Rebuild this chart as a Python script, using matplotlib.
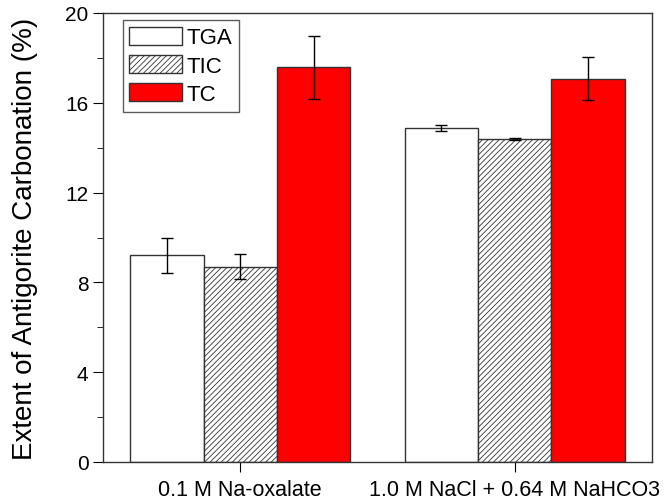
import numpy as np
import matplotlib.pyplot as plt
from matplotlib.ticker import MultipleLocator

plt.rcParams['font.family'] = ['Liberation Sans', 'DejaVu Sans']
plt.rcParams['hatch.linewidth'] = 0.6

groups = ['0.1 M Na-oxalate', '1.0 M NaCl + 0.64 M NaHCO3']
series = ['TGA', 'TIC', 'TC']
values = {
    'TGA': [9.22, 14.88],
    'TIC': [8.70, 14.40],
    'TC': [17.58, 17.08],
}
errors = {
    'TGA': [0.78, 0.15],
    'TIC': [0.55, 0.05],
    'TC': [1.40, 0.95],
}
styles = {
    'TGA': dict(color='white', hatch=None),
    'TIC': dict(color='white', hatch='//////'),
    'TC': dict(color='#ff0000', hatch=None),
}

fig = plt.figure(figsize=(6.65, 5.02), dpi=100)
ax = fig.add_axes([103 / 665, 39 / 502, 549 / 665, 449 / 502])

x = np.arange(len(groups))
width = 0.267
for i, name in enumerate(series):
    pos = x + (i - 1) * width
    ax.bar(pos, values[name], width, color=styles[name]['color'],
           hatch=styles[name]['hatch'], edgecolor='#333333', linewidth=1.0,
           label=name, zorder=2)
    ax.errorbar(pos, values[name], yerr=errors[name], fmt='none',
                ecolor='black', elinewidth=1.0, capsize=4, capthick=1.0, zorder=3)

ax.set_xlim(-0.5, 1.5)
ax.set_ylim(0, 20)
ax.set_xticks(x)
ax.set_xticklabels(groups, fontsize=15.5)
ax.yaxis.set_major_locator(MultipleLocator(4))
ax.yaxis.set_minor_locator(MultipleLocator(2))
ax.tick_params(axis='y', which='major', direction='out', length=7, labelsize=15)
ax.tick_params(axis='y', which='minor', direction='out', length=4)
ax.tick_params(axis='x', direction='out', length=7, pad=5)
ax.set_ylabel('Extent of Antigorite Carbonation (%)', fontsize=20)
ax.yaxis.set_label_coords(-0.118, 0.5)
for sp in ax.spines.values():
    sp.set_linewidth(1.0)
    sp.set_color('#333333')

leg = ax.legend(loc='upper left', bbox_to_anchor=(0.036, 0.984), fontsize=16,
                frameon=True, fancybox=False, edgecolor='#333333',
                handlelength=2.35, handleheight=0.86, borderpad=0.3,
                labelspacing=0.3, handletextpad=0.2, borderaxespad=0)
leg.get_frame().set_linewidth(1.0)

fig.savefig('out.png', dpi=100)
